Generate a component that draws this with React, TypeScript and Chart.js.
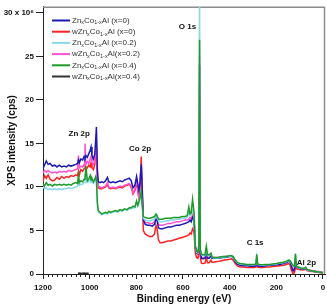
import { useEffect, useRef } from "react";
import { Chart, registerables } from "chart.js";

Chart.register(...registerables);

// Binding energy grid (eV)
const energy = [
  1200, 1194, 1186, 1178, 1170, 1160, 1150, 1140, 1130, 1120,
  1110, 1100, 1090, 1080, 1070, 1060, 1052, 1048, 1044, 1038,
  1030, 1024, 1020, 1016, 1010, 1004, 998, 994, 990, 984,
  978, 974, 971, 967, 963, 956, 948, 940, 932, 924,
  918, 910, 900, 890, 880, 870, 860, 850, 840, 830,
  822, 814, 806, 799, 794, 789, 784, 779, 775, 770,
  762, 752, 742, 732, 722, 716, 711, 705, 698, 688,
  676, 664, 652, 640, 628, 616, 604, 592, 582, 575,
  570, 565, 559, 553, 547, 542, 536, 532, 529, 526,
  521, 514, 506, 500, 495, 488, 480, 476, 470, 460,
  450, 440, 430, 420, 410, 400, 392, 385, 376, 366,
  355, 340, 325, 310, 296, 288, 284, 280, 272, 260,
  245, 230, 215, 200, 185, 170, 158, 148, 142, 136,
  130, 125, 121, 118, 114, 106, 96, 86, 78, 74,
  70, 60, 48, 36, 24, 12, 0,
];

// Intensities (x 10^6 cps)
const znCoAlX0 = [
  12.1, 12.5, 13.0, 12.6, 12.7, 12.4, 12.5, 12.3, 12.5, 12.3,
  12.4, 12.3, 12.5, 12.4, 12.5, 12.6, 12.7, 13.1, 12.8, 13.2,
  13.1, 13.5, 13.3, 13.6, 13.4, 13.8, 14.2, 14.6, 13.6, 13.2,
  13.8, 15.5, 16.9, 12.0, 10.6, 10.5, 10.6, 10.5, 10.7, 11.1,
  10.6, 10.5, 10.6, 10.5, 10.6, 10.7, 10.6, 10.8, 10.9, 11.0,
  10.7, 9.9, 10.2, 11.2, 10.4, 9.6, 10.5, 12.6, 10.0, 6.2,
  5.7, 5.6, 5.6, 5.5, 5.7, 6.3, 6.1, 5.3, 5.2, 5.2,
  5.3, 5.4, 5.4, 5.5, 5.6, 5.6, 5.7, 5.8, 5.9, 6.0,
  6.2, 6.0, 6.5, 6.2, 3.0, 2.4, 2.3, 3.0, 24.0, 2.6,
  1.8, 1.75, 1.8, 2.4, 1.8, 1.8, 2.1, 1.8, 1.8, 1.8,
  1.85, 1.85, 1.9, 1.9, 1.95, 2.0, 2.05, 1.9, 1.4, 1.1,
  1.0, 0.95, 0.95, 0.9, 0.9, 0.95, 1.5, 0.95, 0.9, 0.9,
  0.95, 1.0, 1.0, 1.05, 1.1, 1.2, 1.3, 1.45, 1.4, 1.0,
  0.4, 0.35, 0.8, 1.6, 0.8, 0.7, 0.6, 0.55, 0.6, 0.7,
  0.5, 0.4, 0.35, 0.3, 0.25, 0.2, 0.15,
];

const wZnCoAlX0 = [
  10.6, 11.3, 11.0, 11.4, 10.9, 10.7, 10.8, 11.1, 10.9, 11.2,
  11.0, 11.2, 11.1, 11.3, 11.2, 11.4, 11.3, 11.8, 11.4, 12.0,
  11.8, 12.1, 12.4, 12.0, 12.2, 12.5, 12.3, 12.8, 12.2, 12.0,
  12.6, 14.0, 14.8, 11.0, 9.9, 9.8, 9.8, 9.9, 10.0, 10.3,
  9.9, 9.8, 9.9, 9.8, 9.9, 10.0, 9.9, 10.1, 10.2, 10.3,
  10.0, 9.2, 9.6, 10.6, 9.6, 8.8, 10.0, 13.5, 9.5, 5.0,
  4.6, 4.4, 4.3, 4.3, 4.6, 5.6, 5.2, 3.9, 3.6, 3.6,
  3.7, 3.8, 3.8, 3.9, 4.0, 4.1, 4.2, 4.3, 4.4, 4.5,
  4.7, 4.6, 5.2, 4.9, 2.4, 1.9, 1.8, 2.4, 22.0, 2.0,
  1.25, 1.2, 1.25, 1.9, 1.3, 1.3, 1.6, 1.35, 1.35, 1.4,
  1.45, 1.5, 1.55, 1.6, 1.65, 1.7, 1.75, 1.6, 1.2, 0.9,
  0.8, 0.8, 0.75, 0.75, 0.75, 0.8, 1.3, 0.8, 0.75, 0.75,
  0.8, 0.8, 0.85, 0.9, 0.95, 1.0, 1.1, 1.2, 1.1, 0.5,
  0.1, 0.05, 0.3, 0.8, 0.6, 0.55, 0.5, 0.45, 0.5, 0.6,
  0.4, 0.35, 0.3, 0.25, 0.2, 0.15, 0.1,
];

const znCoAlX02 = [
  10.1, 9.8, 9.9, 9.7, 9.8, 9.7, 9.8, 9.7, 9.8, 9.7,
  9.8, 9.8, 9.9, 9.8, 9.9, 10.0, 10.1, 10.8, 10.2, 10.3,
  10.3, 10.5, 11.2, 11.6, 10.5, 10.6, 10.8, 10.5, 10.6, 10.4,
  10.7, 10.9, 10.6, 8.0, 7.1, 7.0, 6.8, 6.9, 7.0, 6.9,
  7.1, 7.0, 7.1, 7.2, 7.1, 7.3, 7.2, 7.4, 7.3, 7.5,
  7.5, 7.6, 7.6, 8.2, 7.8, 8.1, 8.6, 9.2, 7.9, 6.4,
  6.2, 6.1, 6.1, 6.2, 6.3, 6.7, 6.5, 6.1, 6.0, 6.0,
  6.1, 6.1, 6.2, 6.2, 6.3, 6.3, 6.4, 6.4, 6.5, 7.2,
  6.7, 6.8, 7.3, 7.0, 3.1, 2.5, 2.4, 3.2, 33.0, 2.8,
  2.2, 2.1, 2.1, 2.9, 2.1, 2.1, 2.3, 1.95, 1.85, 1.85,
  1.85, 1.9, 1.95, 1.95, 2.0, 2.05, 2.05, 1.95, 1.55, 1.25,
  1.15, 1.1, 1.05, 1.05, 1.05, 1.1, 2.0, 1.1, 1.05, 1.0,
  1.05, 1.05, 1.1, 1.15, 1.25, 1.3, 1.4, 1.55, 1.5, 1.25,
  0.95, 0.85, 1.15, 2.4, 0.85, 0.75, 0.65, 0.6, 0.65, 0.7,
  0.5, 0.4, 0.35, 0.3, 0.25, 0.2, 0.15,
];

const wZnCoAlX02 = [
  11.6, 11.9, 11.7, 11.9, 11.7, 11.6, 11.7, 11.6, 11.8, 11.7,
  11.8, 11.7, 11.9, 11.8, 11.9, 12.0, 12.1, 13.6, 12.2, 12.4,
  12.3, 12.6, 15.0, 12.6, 12.9, 12.7, 13.2, 13.5, 12.8, 12.6,
  13.0, 14.2, 14.6, 11.0, 10.1, 10.0, 9.9, 10.0, 10.1, 10.5,
  10.0, 9.9, 10.0, 9.9, 10.0, 10.1, 10.0, 10.2, 10.3, 10.4,
  10.1, 9.3, 9.8, 10.9, 9.7, 8.6, 10.3, 12.6, 9.6, 6.4,
  5.9, 5.9, 5.8, 5.8, 6.0, 6.6, 6.4, 5.7, 5.6, 5.6,
  5.7, 5.8, 5.8, 5.9, 6.0, 6.0, 6.1, 6.2, 6.2, 6.3,
  6.5, 6.3, 6.8, 6.5, 3.2, 2.5, 2.4, 3.1, 25.0, 2.7,
  1.9, 1.85, 1.9, 2.5, 1.9, 1.9, 2.2, 1.9, 1.9, 1.9,
  1.9, 1.95, 1.95, 2.0, 2.0, 2.05, 2.1, 1.95, 1.45, 1.15,
  1.05, 1.0, 1.0, 0.95, 0.95, 1.0, 1.6, 1.0, 0.95, 0.95,
  1.0, 1.05, 1.05, 1.1, 1.15, 1.25, 1.35, 1.5, 1.45, 1.05,
  0.45, 0.4, 0.85, 1.7, 0.85, 0.75, 0.65, 0.6, 0.65, 0.75,
  0.55, 0.45, 0.4, 0.35, 0.3, 0.25, 0.2,
];

const znCoAlX04 = [
  10.4, 10.1, 10.5, 10.2, 10.3, 10.1, 10.3, 10.2, 10.3, 10.2,
  10.3, 10.2, 10.3, 10.2, 10.4, 10.5, 10.4, 11.4, 10.5, 10.7,
  10.6, 10.9, 11.0, 12.4, 10.7, 10.9, 11.3, 10.8, 11.0, 10.6,
  10.9, 11.2, 10.8, 8.2, 7.3, 7.1, 6.9, 7.0, 7.1, 7.0,
  7.2, 7.1, 7.2, 7.3, 7.2, 7.4, 7.3, 7.5, 7.4, 7.6,
  7.6, 7.8, 7.7, 8.4, 7.9, 8.3, 8.8, 9.5, 8.0, 6.6,
  6.5, 6.4, 6.4, 6.5, 6.6, 6.9, 6.7, 6.3, 6.3, 6.3,
  6.4, 6.4, 6.4, 6.5, 6.5, 6.5, 6.6, 6.6, 6.7, 7.7,
  6.9, 7.0, 8.6, 7.2, 3.2, 2.6, 2.5, 3.3, 26.9, 2.9,
  2.3, 2.2, 2.2, 3.2, 2.2, 2.2, 2.4, 2.0, 1.9, 1.9,
  1.9, 1.95, 2.0, 2.0, 2.05, 2.1, 2.1, 2.0, 1.6, 1.3,
  1.2, 1.15, 1.1, 1.1, 1.1, 1.15, 2.25, 1.15, 1.1, 1.05,
  1.1, 1.1, 1.15, 1.2, 1.3, 1.35, 1.45, 1.6, 1.55, 1.3,
  1.0, 0.9, 1.2, 2.3, 0.9, 0.8, 0.7, 0.65, 0.7, 0.75,
  0.55, 0.45, 0.35, 0.3, 0.25, 0.2, 0.15,
];

const wX04Energy = [1050, 1042, 1034, 1026, 1018, 1010, 1004];
const wZnCoAlX04 = [0.08, 0.1, 0.07, 0.1, 0.08, 0.09, 0.08];

const seriesLabels = [
  "Zn_{x}Co_{1-x}Al (x=0)",
  "wZn_{x}Co_{1-x}Al (x=0)",
  "Zn_{x}Co_{1-x}Al (x=0.2)",
  "wZn_{x}Co_{1-x}Al(x=0.2)",
  "Zn_{x}Co_{1-x}Al (x=0.4)",
  "wZn_{x}Co_{1-x}Al(x=0.4)",
];
const seriesColors = ["#1a1ab0", "#ff2222", "#86d8ea", "#ff52d2", "#1f9a2a", "#333333"];

const xTicks = [0, 200, 400, 600, 800, 1000, 1200];
const yTicks = [0, 5, 10, 15, 20, 25, 30];

const peakNames = ["Zn 2p", "Co 2p", "O 1s", "C 1s", "Al 2p"];
const peakEnergy = [1045, 784, 581, 291, 71];
const peakLevel = [16.1, 14.4, 28.4, 3.6, 1.3];

const FONT = "'Liberation Sans', Arial, Helvetica, sans-serif";

function drawRich(ctx: CanvasRenderingContext2D, text: string, x: number, y: number, size: number) {
  const parts = text.split(/(_\{[^}]*\})/).filter((p) => p.length);
  let cx = x;
  for (const p of parts) {
    const sub = p.startsWith("_{");
    const t = sub ? p.slice(2, -1) : p;
    ctx.font = `${sub ? size * 0.68 : size}px ${FONT}`;
    ctx.fillText(t, cx, y + (sub ? size * 0.3 : 0));
    cx += ctx.measureText(t).width;
  }
}

const extrasPlugin = {
  id: "xpsExtras",
  beforeDatasetsDraw(chart: any) {
    const { ctx, chartArea } = chart;
    ctx.save();
    ctx.strokeStyle = "#8c8c8c";
    ctx.lineWidth = 1.5;
    ctx.beginPath();
    ctx.moveTo(chartArea.left, chartArea.top + 0.5);
    ctx.lineTo(chartArea.right - 0.5, chartArea.top + 0.5);
    ctx.lineTo(chartArea.right - 0.5, chartArea.bottom);
    ctx.stroke();
    ctx.restore();
  },
  afterDraw(chart: any) {
    const { ctx, chartArea, scales } = chart;
    const xs = scales.x;
    const ys = scales.y;
    ctx.save();
    // minor ticks
    ctx.strokeStyle = "#222";
    ctx.lineWidth = 1;
    for (let v = 0; v <= 1200; v += 20) {
      if (v % 200 === 0) continue;
      const px = Math.round(xs.getPixelForValue(v)) + 0.5;
      ctx.beginPath();
      ctx.moveTo(px, chartArea.bottom);
      ctx.lineTo(px, chartArea.bottom + 3);
      ctx.stroke();
    }
    // peak labels
    ctx.fillStyle = "#111";
    ctx.font = `bold 8px ${FONT}`;
    ctx.textAlign = "center";
    ctx.textBaseline = "middle";
    peakNames.forEach((n, i) => {
      ctx.fillText(n, xs.getPixelForValue(peakEnergy[i]), ys.getPixelForValue(peakLevel[i]));
    });
    // legend
    ctx.textAlign = "left";
    ctx.textBaseline = "middle";
    chart.data.datasets.forEach((ds: any, i: number) => {
      const y = chartArea.top + 13.7 + i * 11.2;
      ctx.strokeStyle = ds.borderColor;
      ctx.lineWidth = 2;
      ctx.beginPath();
      ctx.moveTo(chartArea.left + 9, y);
      ctx.lineTo(chartArea.left + 27, y);
      ctx.stroke();
      ctx.fillStyle = "#333";
      drawRich(ctx, ds.label, chartArea.left + 29, y, 8);
    });
    ctx.restore();
  },
};

function toPoints(xs: number[], ys: number[]) {
  return xs.map((x, i) => ({ x, y: ys[i] }));
}

export default function App() {
  const ref = useRef<HTMLCanvasElement>(null);
  useEffect(() => {
    document.body.style.margin = "0";
    const values = [znCoAlX0, wZnCoAlX0, znCoAlX02, wZnCoAlX02, znCoAlX04, wZnCoAlX04];
    const orders = [2, 4, 1, 3, 0, 5];
    const datasets = values.map((v, i) => ({
      label: seriesLabels[i],
      data: i === 5 ? toPoints(wX04Energy, v) : toPoints(energy, v),
      borderColor: seriesColors[i],
      backgroundColor: seriesColors[i],
      borderWidth: 1.5,
      pointRadius: 0,
      tension: 0,
      order: orders[i],
    }));
    const chart = new Chart(ref.current!, {
      type: "line",
      data: { datasets },
      plugins: [extrasPlugin],
      options: {
        animation: false,
        responsive: false,
        devicePixelRatio: 1,
        layout: { padding: { top: 3, right: 2, left: 0, bottom: 0 } },
        plugins: { legend: { display: false }, tooltip: { enabled: false } },
        scales: {
          x: {
            type: "linear",
            reverse: true,
            min: -8.6,
            max: 1200,
            afterBuildTicks: (s: any) => {
              s.ticks = xTicks.map((v) => ({ value: v }));
            },
            afterFit: (s: any) => {
              s.height = 34;
            },
            grid: { drawOnChartArea: false, tickLength: 5, color: "#222", tickColor: "#222" },
            border: { color: "#222", width: 1 },
            ticks: {
              autoSkip: false,
              maxRotation: 0,
              padding: 4,
              color: "#111",
              font: { size: 8, weight: "bold", family: FONT },
              callback: (v: any) => String(v),
            },
            title: {
              display: true,
              text: "Binding energy (eV)",
              color: "#111",
              font: { size: 10, weight: "bold", family: FONT },
              padding: { top: 0, bottom: 3 },
            },
          },
          y: {
            type: "linear",
            min: 0,
            max: 30.7,
            afterBuildTicks: (s: any) => {
              s.ticks = yTicks.map((v) => ({ value: v }));
            },
            afterFit: (s: any) => {
              s.width = 43;
            },
            grid: { drawOnChartArea: false, tickLength: 7, color: "#222", tickColor: "#222" },
            border: { color: "#222", width: 1 },
            ticks: {
              autoSkip: false,
              padding: 2,
              color: "#111",
              font: { size: 8, weight: "bold", family: FONT },
              callback: (v: any) => (v === 30 ? "30 x 10\u2076" : String(v)),
            },
            title: {
              display: true,
              text: "XPS intensity (cps)",
              color: "#111",
              font: { size: 10, weight: "bold", family: FONT },
              padding: { top: 6.5, bottom: 0 },
            },
          },
        },
      },
    });
    return () => chart.destroy();
  }, []);
  return (
    <div style={{ width: 327, height: 308 }}>
      <canvas ref={ref} width={327} height={308} style={{ display: "block" }} />
    </div>
  );
}
